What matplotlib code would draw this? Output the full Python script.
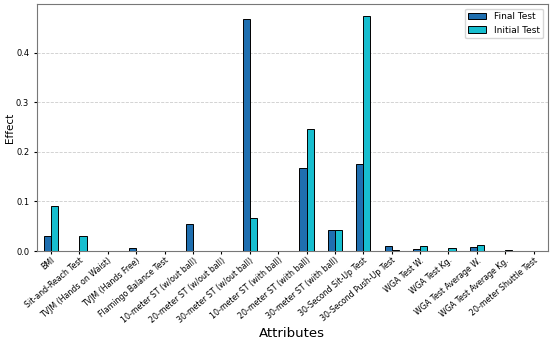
import matplotlib.pyplot as plt
import numpy as np

# attributs
attributes = ["BMI", "Sit-and-Reach Test", "TVJM (Hands on Waist)", "TVJM (Hands Free)",
              "Flamingo Balance Test", "10-meter ST (w/out ball)", "20-meter ST (w/out ball)",
              "30-meter ST (w/out ball)", "10-meter ST (with ball)", "20-meter ST (with ball)",
              "30-meter ST (with ball)", "30-Second Sit-Up Test", "30-Second Push-Up Test",
              "WGA Test W.", "WGA Test Kg.", "WGA Test Average W.", "WGA Test Average Kg.",
              "20-meter Shuttle Test"]

final_test = [0.030, 0.0, 0.001, 0.007, 0.001, 0.054, 0.0, 0.467, 0.0, 0.167,
              0.042, 0.176, 0.011, 0.004, 0.0, 0.008, 0.001, 0.001]
initial_test = [0.091, 0.030, 0.0, 0.0, 0.0, 0.0, 0.0, 0.066, 0.0, 0.247,
                0.043, 0.474, 0.002, 0.010, 0.006, 0.013, 0.002, 0.0]

x = np.arange(len(attributes))
w = 0.25

fig = plt.figure(figsize=(5.5, 3.43), dpi=100)
ax = fig.add_axes([0.067, 0.268, 0.929, 0.72])

ax.bar(x - w / 2, final_test, w, color='#1f6fb0', edgecolor='black', linewidth=0.7,
       label='Final Test', zorder=3)
ax.bar(x + w / 2, initial_test, w, color='#17becf', edgecolor='black', linewidth=0.7,
       label='Initial Test', zorder=3)

ax.set_xlim(-0.5, 17.5)
ax.set_xticks(x)
ax.set_xticklabels(attributes, rotation=40, ha='right', rotation_mode='anchor', fontsize=5.7)
ax.tick_params(axis='y', labelsize=6, length=2)
ax.tick_params(axis='x', length=2, pad=1.5)
ax.set_yticks([0.0, 0.1, 0.2, 0.3, 0.4])

ax.set_ylabel('Effect', fontsize=7.5, labelpad=1)
ax.set_xlabel('Attributes', fontsize=9.5, labelpad=2)

# grille
ax.grid(axis='y', linestyle='--', color='#cccccc', linewidth=0.6, zorder=0)
for s in ax.spines.values():
    s.set_color('#777777')

ax.legend(fontsize=6.5, loc='upper right')

fig.savefig('out.png', dpi=100)
